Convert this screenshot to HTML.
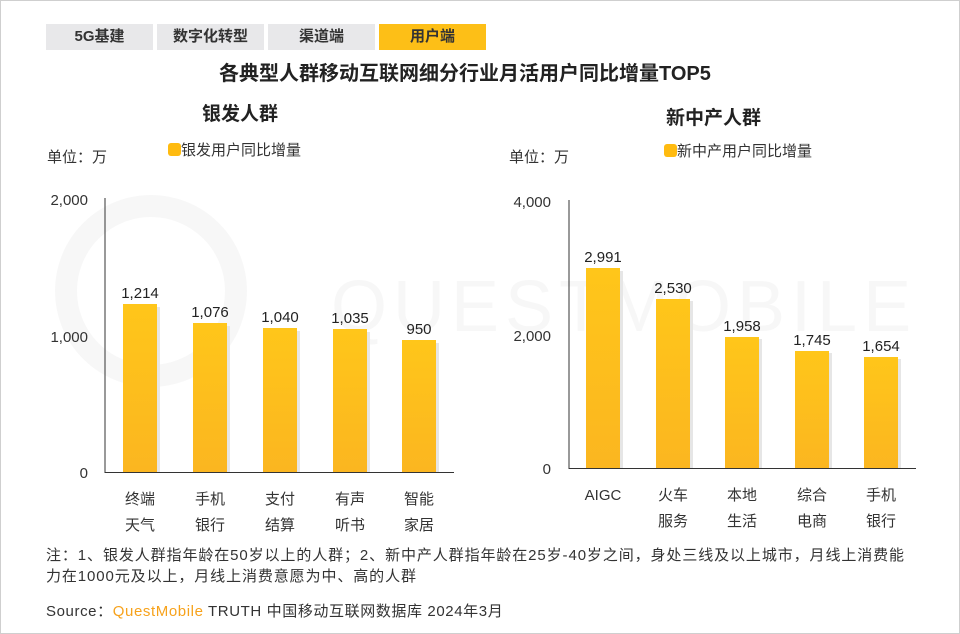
<!DOCTYPE html>
<html><head><meta charset="utf-8"><style>
body{margin:0;background:#fff}
#c{position:relative;width:958px;height:632px;border:1px solid #cfcfcf;overflow:hidden;font-family:"Liberation Sans","Noto Sans CJK SC",sans-serif;color:#333}
.t{position:absolute;white-space:nowrap}
.tab{position:absolute;top:23px;height:26px;background:#e8e8ea;font-size:15px;line-height:26px;text-align:center;color:#333;font-weight:bold}
</style></head><body><div id="c">
<div class="tab" style="left:45px;width:107px">5G基建</div>
<div class="tab" style="left:156px;width:107px">数字化转型</div>
<div class="tab" style="left:267px;width:107px">渠道端</div>
<div class="tab" style="left:378px;width:107px;background:#fdbf17">用户端</div>
<div class="t" style="left:218px;top:56px;font-size:20px;font-weight:bold;color:#222">各典型人群移动互联网细分行业月活用户同比增量TOP5</div>
<div class="t" style="left:201px;top:98px;font-size:19px;font-weight:bold;color:#222">银发人群</div>
<div class="t" style="left:665px;top:102px;font-size:19px;font-weight:bold;color:#222">新中产人群</div>
<div class="t" style="left:46px;top:145px;font-size:15px">单位：万</div>
<div class="t" style="left:508px;top:145px;font-size:15px">单位：万</div>
<div class="t" style="left:167px;top:138px;font-size:15px"><span style="display:inline-block;width:13px;height:13px;background:#ffbb10;border-radius:3px;vertical-align:-1px"></span>银发用户同比增量</div>
<div class="t" style="left:663px;top:139px;font-size:15px"><span style="display:inline-block;width:13px;height:13px;background:#ffbb10;border-radius:3px;vertical-align:-1px"></span>新中产用户同比增量</div>
<svg width="958" height="632" style="position:absolute;left:0;top:0" font-family="Liberation Sans, Noto Sans CJK SC, sans-serif">
<defs><linearGradient id="g" x1="0" y1="0" x2="0" y2="1"><stop offset="0" stop-color="#ffc61a"/><stop offset="1" stop-color="#fbb620"/></linearGradient></defs>
<circle cx="150" cy="290" r="85" fill="none" stroke="#f7f7f7" stroke-width="22"/>
<text x="330" y="330" font-size="72" fill="#f7f7f7" letter-spacing="6">QUESTMOBILE</text>
<g font-size="15" fill="#333" text-anchor="end">
<text x="87" y="204">2,000</text><text x="87" y="341">1,000</text><text x="87" y="477">0</text>
<text x="550" y="206">4,000</text><text x="550" y="340">2,000</text><text x="550" y="473">0</text>
</g>
<line x1="104" y1="197" x2="104" y2="472" stroke="#333"/><line x1="104" y1="471.5" x2="453" y2="471.5" stroke="#333"/>
<line x1="568" y1="199" x2="568" y2="468" stroke="#333"/><line x1="568" y1="467.5" x2="915" y2="467.5" stroke="#333"/>
<g fill="#e6e6e6">
<rect x="125" y="306" width="34" height="165"/><rect x="195" y="325" width="34" height="146"/><rect x="265" y="330" width="34" height="141"/><rect x="335" y="331" width="34" height="140"/><rect x="404" y="342" width="34" height="129"/>
<rect x="588" y="270" width="34" height="197"/><rect x="658" y="300" width="34" height="167"/><rect x="727" y="338" width="34" height="129"/><rect x="797" y="352" width="34" height="115"/><rect x="866" y="358" width="34" height="109"/>
</g>
<g fill="url(#g)">
<rect x="122" y="303" width="34" height="168"/><rect x="192" y="322" width="34" height="149"/><rect x="262" y="327" width="34" height="144"/><rect x="332" y="328" width="34" height="143"/><rect x="401" y="339" width="34" height="132"/>
<rect x="585" y="267" width="34" height="200"/><rect x="655" y="298" width="34" height="169"/><rect x="724" y="336" width="34" height="131"/><rect x="794" y="350" width="34" height="117"/><rect x="863" y="356" width="34" height="111"/>
</g>
<g font-size="15" fill="#222" text-anchor="middle">
<text x="139" y="297">1,214</text><text x="209" y="316">1,076</text><text x="279" y="321">1,040</text><text x="349" y="322">1,035</text><text x="418" y="333">950</text>
<text x="602" y="261">2,991</text><text x="672" y="292">2,530</text><text x="741" y="330">1,958</text><text x="811" y="344">1,745</text><text x="880" y="350">1,654</text>
</g>
<g font-size="15" fill="#333" text-anchor="middle">
<text x="139" y="503">终端</text><text x="139" y="529">天气</text>
<text x="209" y="503">手机</text><text x="209" y="529">银行</text>
<text x="279" y="503">支付</text><text x="279" y="529">结算</text>
<text x="349" y="503">有声</text><text x="349" y="529">听书</text>
<text x="418" y="503">智能</text><text x="418" y="529">家居</text>
<text x="602" y="499">AIGC</text>
<text x="672" y="499">火车</text><text x="672" y="525">服务</text>
<text x="741" y="499">本地</text><text x="741" y="525">生活</text>
<text x="811" y="499">综合</text><text x="811" y="525">电商</text>
<text x="880" y="499">手机</text><text x="880" y="525">银行</text>
</g>
</svg>
<div class="t" style="left:45px;top:544px;font-size:15px;line-height:21px;letter-spacing:0.9px">注：1、银发人群指年龄在50岁以上的人群；2、新中产人群指年龄在25岁-40岁之间，身处三线及以上城市，月线上消费能<br>力在1000元及以上，月线上消费意愿为中、高的人群</div>
<div class="t" style="left:45px;top:599px;font-size:15px;letter-spacing:0.6px">Source：<span style="color:#f7a21b">QuestMobile</span> TRUTH 中国移动互联网数据库 2024年3月</div>
</div></body></html>
